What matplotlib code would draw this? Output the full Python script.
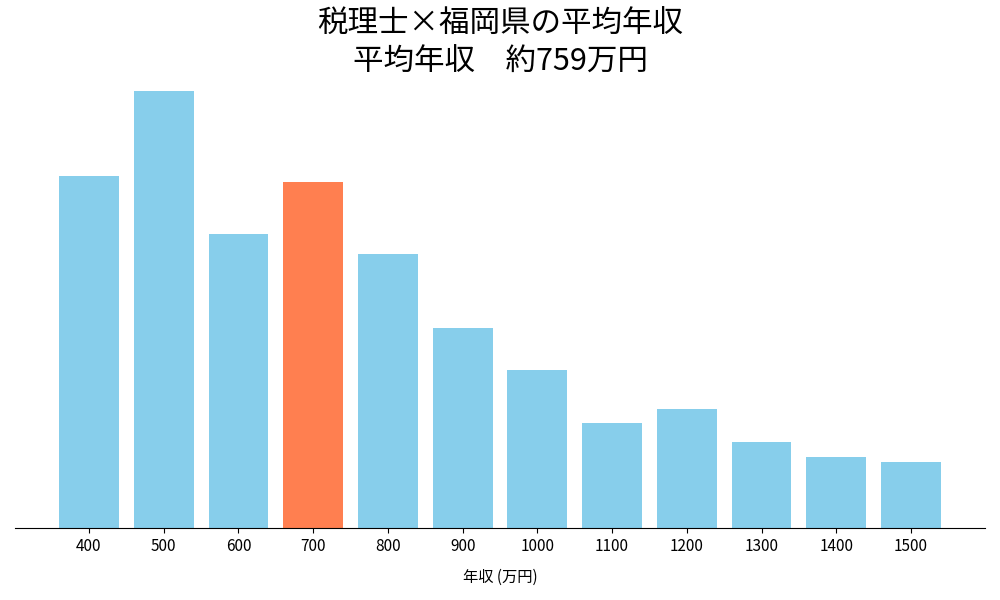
import matplotlib
matplotlib.use("Agg")
import matplotlib.pyplot as plt

plt.rcParams['font.family'] = ['Noto Sans CJK JP', 'DejaVu Sans']

categories = ['400', '500', '600', '700', '800', '900', '1000', '1100', '1200', '1300', '1400', '1500']
values = [352, 437, 294, 346, 274, 200, 158, 105, 119, 86, 71, 66]
highlight = '700'
title = '税理士×福岡県の平均年収\n平均年収　約759万円'
xlabel = '年収 (万円)'

colors = ['#FF7F50' if c == highlight else '#87CEEB' for c in categories]

fig = plt.figure(figsize=(10, 6), dpi=100)
ax = fig.add_axes([0.015, 0.12, 0.97, 0.765])
ax.bar(categories, values, color=colors, width=0.8)
ax.set_ylim(0, max(values) * 1.05)
ax.set_yticks([])
for s in ['left', 'top', 'right']:
    ax.spines[s].set_visible(False)
ax.set_xlabel(xlabel, fontsize=11, labelpad=10)
ax.tick_params(axis='x', labelsize=11)
fig.suptitle(title, fontsize=22, y=0.985, linespacing=1.3)
fig.savefig('out.png')
